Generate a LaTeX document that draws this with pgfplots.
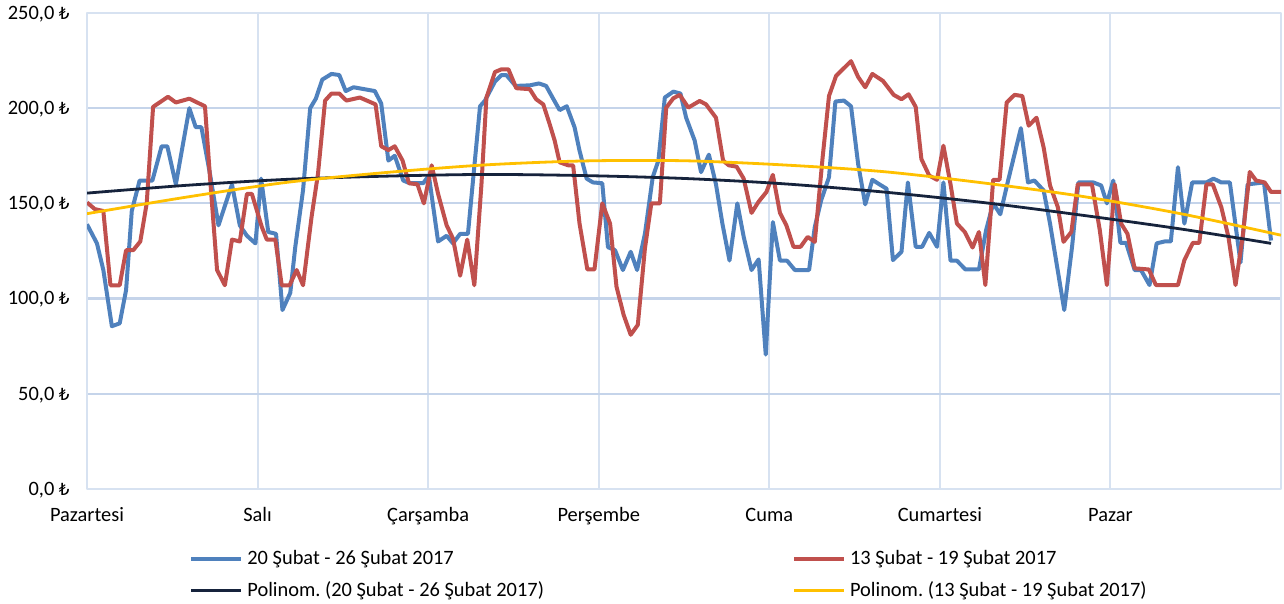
\documentclass[border=0pt]{standalone}
\usepackage{fontspec}
\setmainfont{Carlito}
\newfontfamily\lirafont{DejaVu Sans}[Scale=0.82]
\newcommand{\TL}{{\lirafont ₺}}
\newcommand{\fsz}{\fontsize{10.2pt}{12pt}\selectfont\frenchspacing}
\usepackage{pgfplots}
\pgfplotsset{compat=1.18}
\definecolor{sblue}{RGB}{79,129,189}
\definecolor{sred}{RGB}{192,80,77}
\definecolor{tnavy}{RGB}{22,35,60}
\definecolor{tyellow}{RGB}{255,192,0}
\definecolor{hgrid}{RGB}{197,212,234}
\definecolor{vgrid}{RGB}{215,226,241}

\pgfplotstableread{
h v
0 139
1.4 129
2.3 115
3.5 85.5
4.6 87
5.5 104.5
6.3 146
7.4 162
9.2 162
10.5 180
11.3 180
12.5 160
14.4 200
15.3 190
16.1 190
17.3 165.5
18.5 138.5
20.4 160
21.5 138.5
22.5 133
23.7 129
24.5 163
25.5 135
26.6 134
27.5 94
28.6 103
29.3 127
30.4 157
31.4 200
32.2 205
33.1 215
34.4 218
35.5 217.4
36.4 209
37.5 211
40.5 209
41.4 202.4
42.4 172.5
43.3 175
44.5 162
45.4 160.6
47.3 160.6
48.1 164.6
49.4 130
50.6 133
51.5 129
52.5 134
53.6 134
55.3 201
56 204
57.4 214
58.3 217.4
59 217.4
60.3 211.7
62.3 212
63.6 213
64.6 211.7
65.5 205.6
66.5 199
67.5 201
68.6 190
69.3 177.7
70.3 163
71.2 161
72.5 160.6
73.3 127
74.3 125.4
75.4 115
76.5 124.6
77.4 115
78.5 134
79.6 163.8
80.4 172.5
81.3 205.6
82.5 208.7
83.5 207.7
84.3 195
85.5 183
86.4 166.4
87.5 175.6
88.5 160
89.4 139.4
90.4 120
91.5 150
92.4 132.4
93.5 115
94.5 120.6
95.5 70.6
96.5 140.2
97.5 120
98.5 119.9
99.6 115
101.6 115
102.4 137.6
103.3 151.6
104.4 163.8
105.3 203.5
106.5 204
107.5 201
108.5 170.7
109.5 149.5
110.5 162.4
111.5 160
112.5 157.7
113.4 120.2
114.6 124.6
115.5 161
116.6 127.2
117.5 127.2
118.5 134.5
119.6 127.2
120.5 161
121.5 119.9
122.4 119.9
123.6 115.3
125.5 115.3
126.5 135.9
127.5 150
128.5 144.3
129.6 162
131.4 189.5
132.4 161
133.3 162
134.6 156.8
135.5 139.4
137.5 94
138.6 127.2
139.5 161
141.6 161
142.7 159.4
143.5 150
144.4 162
145.4 129.3
146.2 129.3
147.4 115
148.3 115
149.5 107.1
150.5 129
151.6 130
152.5 130
153.5 169
154.4 139.4
155.5 161
157.5 161
158.5 163
159.6 161
160.8 161
162.3 119
163.3 160
165.6 161
166.6 130.5
}\bluedata

\pgfplotstableread{
h v
0 150.5
1.1 147
2.3 146
3.3 107
4.6 107
5.5 125.4
6.5 125.4
7.5 130
8.4 150
9.3 200.7
11.4 206
12.5 203
14.4 205
16.6 201
17.3 164
18.3 115
19.4 107
20.4 131
21.5 130
22.5 155
23.2 155
24.6 137.6
25.3 131
26.5 131
27.4 107
28.5 107
29.5 115
30.4 107
31.6 143
32.5 165.5
33.5 204
34.4 207.7
35.5 207.7
36.5 204
38.4 205.6
40.6 202
41.4 180
42.4 178
43.3 180
44.4 172.5
45.3 160.6
46.5 160
47.4 150
48.5 170
49.4 155
50.6 138.5
51.5 131.5
52.5 112
53.5 131
54.5 107
55.5 160
56.2 205.6
57.4 219
58.3 220.4
59.3 220.4
60.4 210.5
62.3 210
63.2 204.7
64.2 202
65.1 191.6
65.8 183
66.5 171.6
67.7 170
68.4 170
69.3 139.4
70.4 115.3
71.4 115.3
72.5 150
73.6 139.4
74.5 106.3
75.5 91.5
76.5 81
77.5 86.2
78.5 126.3
79.4 150
80.6 150
81.5 200.3
82.5 205.2
83.4 207
84.6 200.3
86.2 203.8
87.1 202
88.5 195
89.5 172.5
90.3 170
91.4 169.3
92.4 163
93.5 145
94.5 150.9
95.6 156
96.5 165
97.5 145
98.4 138.5
99.4 127.2
100.4 127.2
101.4 132.4
102.4 129.8
103.5 174
104.4 206.4
105.4 217
107.5 224.7
108.5 216.4
109.5 211
110.5 218
112 214.3
113.5 207
114.6 204.7
115.6 207.3
116.6 200.7
117.4 173.3
118.5 164.6
119.6 162.4
120.5 180.3
121.5 160
122.4 139.4
123.5 135
124.6 126.8
125.5 135
126.4 107.1
127.5 162.4
128.4 162.4
129.4 203
130.5 207
131.6 206.4
132.5 190.8
133.6 195
134.6 179.4
135.5 159.4
136.6 148
137.4 129.8
138.5 135
139.4 160
141.4 160
142.5 136
143.5 107.1
144.6 160
145.5 139.4
146.4 134
147.4 115.9
149.4 115.3
150.4 107.1
153.5 107.1
154.4 120.2
155.6 129.3
156.5 129.3
157.5 160
158.4 160
159.6 148
160.6 132.4
161.6 107.1
162.6 132.4
163.6 166.5
164.5 162
165.7 161
166.6 156
168 156
}\reddata

\pgfplotstableread{
h v
0 155.4
14 159.5
28 162.6
42 164.3
56 165.2
70 164.6
84 163.1
98 160.3
112 156
126 150.5
140 143.8
154 136.5
166.6 129
}\navytrend

\pgfplotstableread{
h v
0 144.6
14 153.3
28 161
42 166.2
56 170.2
70 172.3
84 172.4
98 170.2
112 166.7
126 160.8
140 153.7
154 144.5
168 133.3
}\yellowtrend

\begin{document}
\frenchspacing
\begin{tikzpicture}
\useasboundingbox (0,0) rectangle (642pt,302pt);
\begin{axis}[
  at={(43.5pt,57.5pt)}, anchor=south west,
  scale only axis, width=597pt, height=238pt,
  xmin=0, xmax=168, ymin=0, ymax=250,
  xtick={0,24,...,144},
  xticklabels={Pazartesi,Salı,Çarşamba,Perşembe,Cuma,Cumartesi,Pazar},
  ytick={0,50,...,250},
  yticklabels={{0,0 \TL},{50,0 \TL},{100,0 \TL},{150,0 \TL},{200,0 \TL},{250,0 \TL}},
  xmajorgrids, ymajorgrids,
  x grid style={draw=vgrid, line width=1pt},
  y grid style={draw=hgrid, line width=1.1pt},
  axis line style={draw=vgrid, line width=1pt},
  major tick length=0pt,
  tick style={draw=none},
  every tick label/.append style={font=\fsz, text=black},
  xticklabel style={anchor=base, inner sep=0pt, yshift=-16.5pt},
  yticklabel style={anchor=base east, inner sep=0pt, xshift=-8.5pt, yshift=-3.2pt},
  legend columns=2,
  legend cell align=left,
  legend style={at={(0,0)}, anchor=north west, xshift=51pt, yshift=-28.5pt,
    draw=none, fill=none, inner sep=0pt, font=\fsz,
    /tikz/every even column/.append style={column sep=122pt},
    row sep=3pt},
  legend image code/.code={\draw[#1] (0pt,0pt) -- (25pt,0pt);},
  line join=round,
]
\addplot[sblue, line width=2pt] table[x=h, y=v] {\bluedata};
\addlegendentry{20 Şubat - 26 Şubat 2017}
\addplot[sred, line width=2pt] table[x=h, y=v] {\reddata};
\addlegendentry{13 Şubat - 19 Şubat 2017}
\addplot[tnavy, line width=1.4pt, smooth] table[x=h, y=v] {\navytrend};
\addlegendentry{Polinom. (20 Şubat - 26 Şubat 2017)}
\addplot[tyellow, line width=1.4pt, smooth] table[x=h, y=v] {\yellowtrend};
\addlegendentry{Polinom. (13 Şubat - 19 Şubat 2017)}
\end{axis}
\end{tikzpicture}
\end{document}
